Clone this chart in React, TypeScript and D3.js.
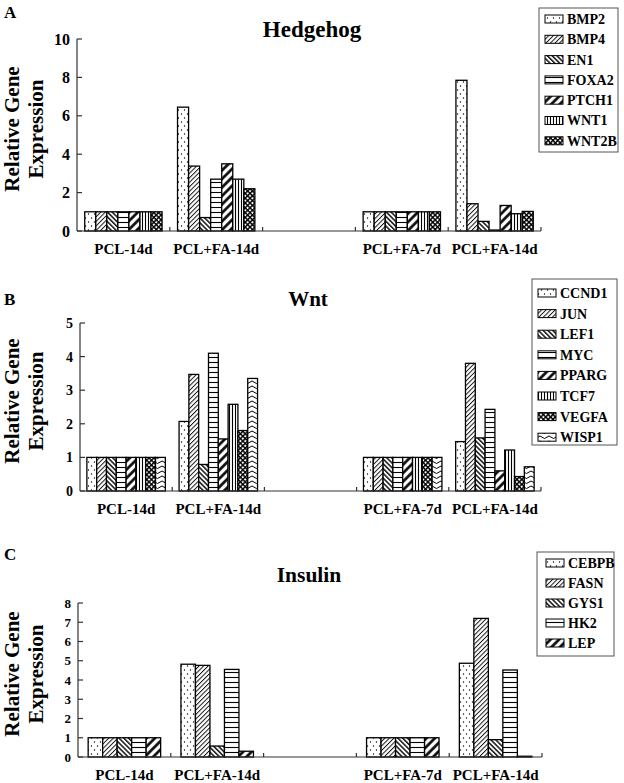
import * as d3 from 'd3'

// x categories (index 2 is an empty slot in the original figure)
const conditions = ['PCL-14d', 'PCL+FA-14d', '', 'PCL+FA-7d', 'PCL+FA-14d']

const hedgehogGenes = ['BMP2', 'BMP4', 'EN1', 'FOXA2', 'PTCH1', 'WNT1', 'WNT2B']
const hedgehogValues = [
  [1, 1, 1, 1, 1, 1, 1],
  [6.45, 3.38, 0.7, 2.7, 3.5, 2.7, 2.2],
  [],
  [1, 1, 1, 1, 1, 1, 1],
  [7.85, 1.42, 0.5, 0.05, 1.33, 0.9, 1.02],
]
const hedgehogTicks = [0, 2, 4, 6, 8, 10]

const wntGenes = ['CCND1', 'JUN', 'LEF1', 'MYC', 'PPARG', 'TCF7', 'VEGFA', 'WISP1']
const wntValues = [
  [1, 1, 1, 1, 1, 1, 1, 1],
  [2.07, 3.47, 0.79, 4.1, 1.55, 2.58, 1.8, 3.35],
  [],
  [1, 1, 1, 1, 1, 1, 1, 1],
  [1.47, 3.8, 1.58, 2.43, 0.6, 1.22, 0.43, 0.72],
]
const wntTicks = [0, 1, 2, 3, 4, 5]

const insulinGenes = ['CEBPB', 'FASN', 'GYS1', 'HK2', 'LEP']
const insulinValues = [
  [1, 1, 1, 1, 1],
  [4.82, 4.76, 0.57, 4.55, 0.3],
  [],
  [1, 1, 1, 1, 1],
  [4.87, 7.2, 0.9, 4.52, 0.04],
]
const insulinTicks = [0, 1, 2, 3, 4, 5, 6, 7, 8]

const patternOrder = ['dots', 'fwd', 'back', 'horiz', 'bold', 'vert', 'cross', 'wave']

const FONT = '"Liberation Serif", "Times New Roman", serif'

const panels = [
  {
    letter: 'A', title: 'Hedgehog', genes: hedgehogGenes, values: hedgehogValues, ticks: hedgehogTicks,
    x0: 77, x1: 541, yTop: 39, yBot: 231, tickFont: 16, labelY: 254, titleY: 37, titleX: 312, titleSize: 23, letterY: 18,
    legend: { x: 539, y: 8, w: 79, h: 144, row0: 19, step: 20.3, swX: 545 },
  },
  {
    letter: 'B', title: 'Wnt', genes: wntGenes, values: wntValues, ticks: wntTicks,
    x0: 80, x1: 541, yTop: 323, yBot: 491, tickFont: 14, labelY: 514, titleY: 306, titleX: 308, titleSize: 21, letterY: 305,
    legend: { x: 532, y: 279, w: 85, h: 166, row0: 293, step: 20.6, swX: 538 },
  },
  {
    letter: 'C', title: 'Insulin', genes: insulinGenes, values: insulinValues, ticks: insulinTicks,
    x0: 78, x1: 542, yTop: 603, yBot: 757, tickFont: 13, labelY: 780, titleY: 582, titleX: 309, titleSize: 21.5, letterY: 560,
    legend: { x: 537, y: 552, w: 77, h: 104, row0: 563, step: 20, swX: 546 },
  },
]

function Patterns() {
  return (
    <defs>
      <pattern id="p-dots" width={6} height={8} patternUnits="userSpaceOnUse">
        <rect width={6} height={8} fill="#fff" />
        <circle cx={1.5} cy={2} r={0.7} fill="#000" />
        <circle cx={4.5} cy={6} r={0.7} fill="#000" />
      </pattern>
      <pattern id="p-fwd" width={3.2} height={3.2} patternUnits="userSpaceOnUse" patternTransform="rotate(45)">
        <rect width={3.2} height={3.2} fill="#fff" />
        <line x1={0.5} y1={0} x2={0.5} y2={3.2} stroke="#000" strokeWidth={0.9} />
      </pattern>
      <pattern id="p-back" width={3.4} height={3.4} patternUnits="userSpaceOnUse" patternTransform="rotate(-45)">
        <rect width={3.4} height={3.4} fill="#fff" />
        <line x1={0.8} y1={0} x2={0.8} y2={3.4} stroke="#000" strokeWidth={1.4} />
      </pattern>
      <pattern id="p-horiz" width={5} height={5} patternUnits="userSpaceOnUse">
        <rect width={5} height={5} fill="#fff" />
        <line x1={0} y1={2.5} x2={5} y2={2.5} stroke="#000" strokeWidth={1.1} />
      </pattern>
      <pattern id="p-bold" width={6} height={6} patternUnits="userSpaceOnUse" patternTransform="rotate(45)">
        <rect width={6} height={6} fill="#fff" />
        <line x1={1.5} y1={0} x2={1.5} y2={6} stroke="#000" strokeWidth={2.6} />
      </pattern>
      <pattern id="p-vert" width={3} height={3} patternUnits="userSpaceOnUse">
        <rect width={3} height={3} fill="#fff" />
        <line x1={1.5} y1={0} x2={1.5} y2={3} stroke="#000" strokeWidth={1.1} />
      </pattern>
      <pattern id="p-cross" width={3.4} height={3.4} patternUnits="userSpaceOnUse" patternTransform="rotate(45)">
        <rect width={3.4} height={3.4} fill="#fff" />
        <line x1={0} y1={0.7} x2={3.4} y2={0.7} stroke="#000" strokeWidth={1.5} />
        <line x1={0.7} y1={0} x2={0.7} y2={3.4} stroke="#000" strokeWidth={1.5} />
      </pattern>
      <pattern id="p-wave" width={9} height={5} patternUnits="userSpaceOnUse">
        <rect width={9} height={5} fill="#fff" />
        <path d="M0,1 L4.5,3.5 L9,1" fill="none" stroke="#000" strokeWidth={1} />
      </pattern>
    </defs>
  )
}

function Panel({ p }: { p: (typeof panels)[number] }) {
  const x = d3.scaleBand<number>().domain(d3.range(conditions.length)).range([p.x0, p.x1]).padding(0)
  const inner = d3.scaleBand<string>().domain(p.genes).range([0, x.bandwidth()]).paddingInner(0).paddingOuter(0.7)
  const yMax = p.ticks[p.ticks.length - 1]
  const y = d3.scaleLinear().domain([0, yMax]).range([p.yBot, p.yTop])
  const midY = (p.yTop + p.yBot) / 2 - 6

  return (
    <g fontFamily={FONT} fontWeight="bold" fill="#000">
      <text x={4} y={p.letterY} fontSize={17}>{p.letter}</text>
      <text x={p.titleX} y={p.titleY} fontSize={p.titleSize} textAnchor="middle">{p.title}</text>

      <g transform={`translate(26,${midY}) rotate(-90)`}>
        <text x={0} y={-7} fontSize={21} textAnchor="middle">Relative Gene</text>
        <text x={0} y={17} fontSize={21} textAnchor="middle">Expression</text>
      </g>

      {p.values.map((vals, gi) =>
        vals.map((v, i) => (
          <rect
            key={`${gi}-${i}`}
            x={(x(gi) ?? 0) + (inner(p.genes[i]) ?? 0)}
            y={y(v)}
            width={inner.bandwidth()}
            height={p.yBot - y(v)}
            fill={`url(#p-${patternOrder[i]})`}
            stroke="#000"
            strokeWidth={1.3}
          />
        ))
      )}

      {/* axes */}
      <line x1={p.x0} x2={p.x0} y1={p.yTop} y2={p.yBot} stroke="#333" strokeWidth={1.2} />
      <line x1={p.x0} x2={p.x1} y1={p.yBot} y2={p.yBot} stroke="#333" strokeWidth={1.2} />
      {p.ticks.map((t) => (
        <g key={t}>
          <line x1={p.x0} x2={p.x0 + 5} y1={y(t)} y2={y(t)} stroke="#333" strokeWidth={1.2} />
          <text x={p.x0 - 7} y={y(t)} dy="0.35em" fontSize={p.tickFont} textAnchor="end">{t}</text>
        </g>
      ))}
      {conditions.map((c, i) => (
        <g key={i}>
          <line x1={(x(i) ?? 0) + x.bandwidth()} x2={(x(i) ?? 0) + x.bandwidth()} y1={p.yBot - 4} y2={p.yBot} stroke="#333" strokeWidth={1.2} />
          <text x={(x(i) ?? 0) + x.bandwidth() / 2} y={p.labelY} fontSize={15} textAnchor="middle">{c}</text>
        </g>
      ))}

      {/* legend */}
      <rect x={p.legend.x} y={p.legend.y} width={p.legend.w} height={p.legend.h} fill="#fff" stroke="#555" strokeWidth={1} />
      {p.genes.map((g, i) => {
        const cy = p.legend.row0 + i * p.legend.step
        return (
          <g key={g}>
            <rect x={p.legend.swX} y={cy - 4} width={18} height={8} fill={`url(#p-${patternOrder[i]})`} stroke="#000" strokeWidth={1} />
            <text x={p.legend.swX + 22} y={cy} dy="0.35em" fontSize={14}>{g}</text>
          </g>
        )
      })}
    </g>
  )
}

export default function App() {
  return (
    <div style={{ position: 'absolute', left: 0, top: 0 }}>
      <svg width={624} height={783} style={{ display: 'block', background: '#fff' }}>
        <Patterns />
        {panels.map((p) => (
          <Panel key={p.letter} p={p} />
        ))}
      </svg>
    </div>
  )
}
